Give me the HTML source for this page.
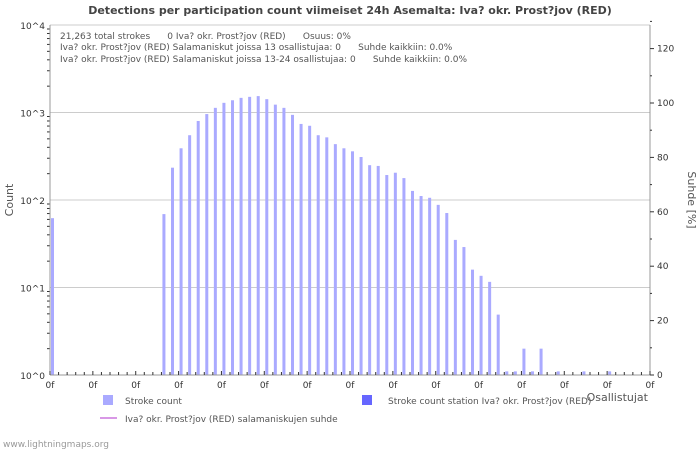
<!DOCTYPE html>
<html><head><meta charset="utf-8"><style>
body{margin:0;background:#fff;}
svg{display:block;font-family:"DejaVu Sans","Liberation Sans",sans-serif;}
.pre{white-space:pre;}
</style></head><body>
<svg id="c" width="700" height="450" xmlns="http://www.w3.org/2000/svg">
<text x="350" y="14" text-anchor="middle" font-size="11" font-weight="bold" fill="#444">Detections per participation count viimeiset 24h Asemalta: Iva? okr. Prost?jov (RED)</text>
<g font-size="9" fill="#555">
<text class="pre" x="60" y="39">21,263 total strokes      0 Iva? okr. Prost?jov (RED)      Osuus: 0%</text>
<text class="pre" x="60" y="50">Iva? okr. Prost?jov (RED) Salamaniskut joissa 13 osallistujaa: 0      Suhde kaikkiin: 0.0%</text>
<text class="pre" x="60" y="62">Iva? okr. Prost?jov (RED) Salamaniskut joissa 13-24 osallistujaa: 0      Suhde kaikkiin: 0.0%</text>
</g>
<g id="grid"></g><g id="bars"></g><g id="axes"></g>
<text x="13" y="200" font-size="11" fill="#555" text-anchor="middle" transform="rotate(-90 13 200)">Count</text>
<text x="688" y="200" font-size="11" fill="#555" text-anchor="middle" transform="rotate(90 688 200)">Suhde [%]</text>
<text x="648" y="401" font-size="11" fill="#555" text-anchor="end">Osallistujat</text>
<g font-size="9" fill="#555">
<rect x="103" y="395" width="10" height="10" fill="#aaaaff"/>
<text x="125" y="404">Stroke count</text>
<rect x="362" y="395" width="10" height="10" fill="#6666ff"/>
<text x="388" y="404">Stroke count station Iva? okr. Prost?jov (RED)</text>
<line x1="100" y1="418" x2="117" y2="418" stroke="#cc77dd" stroke-width="1.5"/>
<text x="125" y="422">Iva? okr. Prost?jov (RED) salamaniskujen suhde</text>
</g>
<text x="3" y="447" font-size="9" fill="#999">www.lightningmaps.org</text>
</svg>
<script>
const counts=[62,0,0,0,0,0,0,0,0,0,0,0,0,69,234,390,550,800,960,1130,1290,1380,1470,1510,1540,1420,1230,1130,940,740,705,550,520,435,390,360,310,250,245,193,205,178,127,111,106,88,71,35,29,16,13.6,11.6,4.9,1.1,1.1,2,1.1,2,0,1.1,0,0,1.1,0,0,1.1,0,0,0,0];
const yTicks=["10^0","10^1","10^2","10^3","10^4"];
const y2Ticks=[0,20,40,60,80,100,120];
const xLabel="0f";
const NS="http://www.w3.org/2000/svg";
const X0=50,X1=650,Y0=375,Y1=25,N=70,dec=(Y0-Y1)/4;
const sx=i=>X0+i*(X1-X0)/N;
const sy=v=>Y0-Math.log10(Math.max(v,1))*dec;
const sy2=p=>Y0-p*(54.4/20);
function mk(t,a,p){const e=document.createElementNS(NS,t);for(const k in a)e.setAttribute(k,a[k]);p.appendChild(e);return e;}
const grid=document.getElementById('grid'),bars=document.getElementById('bars'),axes=document.getElementById('axes');
yTicks.forEach((t,i)=>{const y=Y0-i*dec;
 if(i>0){const g=mk('line',{x1:X0,x2:X1,y1:y,y2:y,stroke:'#cccccc'},grid);}
 const tx=mk('text',{x:45,y:y+4,'text-anchor':'end','font-size':9,fill:'#333'},axes);tx.textContent=t;
 
 if(i<4)for(let m=2;m<10;m++){const yy=y-Math.log10(m)*dec;mk('line',{x1:X0-3,x2:X0,y1:yy,y2:yy,stroke:'#333'},axes);}
});
counts.forEach((v,i)=>{if(v<=0)return;const y=sy(v);
 const b=mk('rect',{x:sx(i)+1,y:y,width:3,height:Y0-y,fill:'#aaaaff'},bars);
 });
mk('line',{x1:X0,x2:X1,y1:Y1,y2:Y1,stroke:'#cccccc'},axes);
mk('line',{x1:X0,x2:X0,y1:Y1,y2:Y0,stroke:'#999'},axes);
mk('line',{x1:X1,x2:X1,y1:Y1,y2:Y0,stroke:'#999'},axes);
mk('line',{x1:X0,x2:X1,y1:Y0,y2:Y0,stroke:'#999'},axes);
for(let i=0;i<=N;i++){const x=sx(i);mk('line',{x1:x,x2:x,y1:Y0,y2:Y0-(i%5==0?4:3),stroke:'#333'},axes);
 if(i%5==0){const t=mk('text',{x:x,y:Y0+13,'text-anchor':'middle','font-size':9,fill:'#333'},axes);t.textContent=xLabel;
 }}
y2Ticks.forEach(p=>{const y=sy2(p);mk('line',{x1:X1,x2:X1+4,y1:y,y2:y,stroke:'#333'},axes);
 mk('line',{x1:X1,x2:X1+2,y1:y-27.2,y2:y-27.2,stroke:'#333'},axes);
 const t=mk('text',{x:X1+7,y:y+3,'font-size':9,fill:'#333'},axes);t.textContent=p;
 });
</script>
</body></html>
